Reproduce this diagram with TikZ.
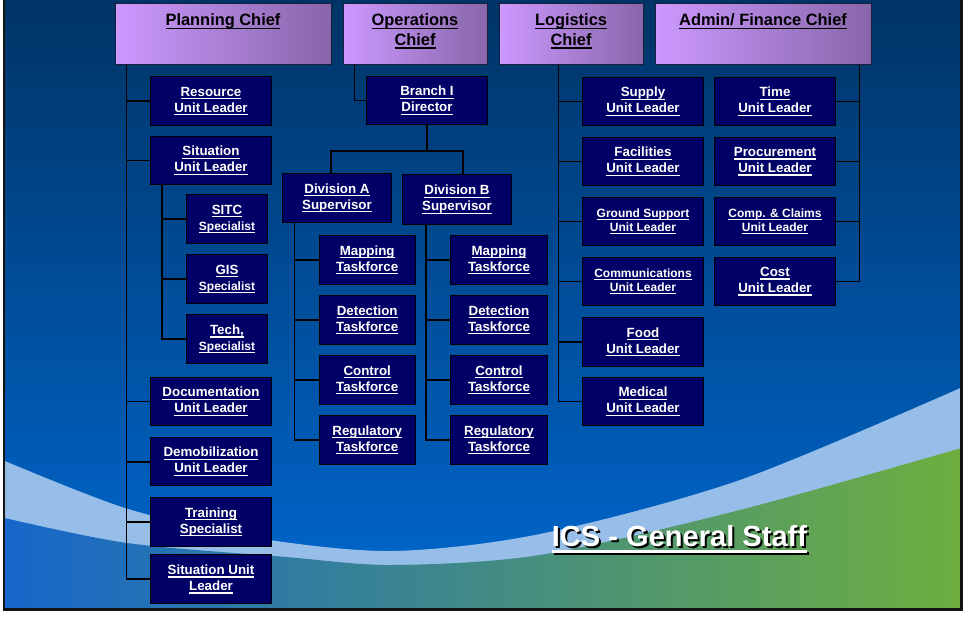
\documentclass[tikz,border=0pt]{standalone}
\usepackage{fontspec}
\setmainfont{Liberation Sans}
\usepackage{tikz}
\usetikzlibrary{positioning}

\definecolor{unitnavy}{RGB}{0,0,102}
\definecolor{chieflight}{RGB}{204,153,255}
\definecolor{chiefdark}{RGB}{136,102,170}
\definecolor{chiefedge}{RGB}{30,30,60}
\definecolor{skytop}{RGB}{0,52,102}
\definecolor{skymid}{RGB}{0,84,168}
\definecolor{skybot}{RGB}{0,104,208}
\definecolor{swoosh}{RGB}{150,190,232}
\definecolor{groundblue}{RGB}{22,102,204}
\definecolor{groundmid}{RGB}{72,136,165}
\definecolor{groundgreen}{RGB}{110,175,62}
\definecolor{framegray}{RGB}{20,20,20}

\newsavebox{\lblbox}
\newcommand{\lbl}[1]{\sbox{\lblbox}{#1}\rlap{\rule[-.23em]{\wd\lblbox}{.1em}}\usebox{\lblbox}}
\newcommand{\smalltxt}{\fontsize{9}{10.5}\selectfont}

\begin{document}
\begin{tikzpicture}[x=0.75pt,y=-0.75pt,
    chief/.style={draw=chiefedge, line width=0.75pt, left color=chieflight, right color=chiefdark, minimum height=45.75pt, inner sep=0pt},
    chieftext/.style={font=\bfseries\fontsize{12.3}{14.9}\selectfont, text=black, align=center, inner sep=0pt},
    unit/.style={draw=black, line width=0.75pt, fill=unitnavy, text=white, font=\bfseries\fontsize{10}{12}\selectfont, align=center, minimum width=90.45pt, minimum height=36.4pt, inner sep=0pt},
    spec/.style={unit, minimum width=60.45pt},
    div/.style={unit, minimum width=81.45pt, minimum height=37pt},
    task/.style={unit, minimum width=72.2pt, minimum height=36.2pt},
    titletext/.style={font=\bfseries\fontsize{21.8}{24}\selectfont, anchor=base, inner sep=0pt},
    link/.style={draw=black, line width=1.4pt}]
    \useasboundingbox (0,0) rectangle (965,617);

    % background
    \fill[white] (0,0) rectangle (965,617);
    \begin{scope}
        \clip (4,0) rectangle (961.5,609.5);
        \shade[top color=skytop, middle color=skymid, bottom color=skybot] (4,0) rectangle (961.5,609.5);
        \fill[swoosh] plot[smooth] coordinates {(0,459) (125,508) (250,537) (390,551) (540,534) (740,480) (965,386)} -- (965,617) -- (0,617) -- cycle;
        \shade[left color=groundblue, middle color=groundmid, right color=groundgreen] plot[smooth] coordinates {(0,517) (127,543) (286,557) (393,565) (540,555) (740,510) (965,447)} -- (965,617) -- (0,617) -- cycle;
    \end{scope}
    \draw[line width=2pt, framegray] (4,-10) rectangle (961.5,609.5);

    % chiefs
    \node[chief, minimum width=162pt] (plan) at (223,34.5) {};
    \node[chief, minimum width=108pt] (ops) at (415,34.5) {};
    \node[chief, minimum width=108pt] (log) at (571,34.5) {};
    \node[chief, minimum width=162pt] (adm) at (763,34.5) {};
    \node[chieftext, below=7.3pt of plan.north] (planlbl) {\lbl{Planning Chief}};
    \node[chieftext, below=7.3pt of ops.north] (opslbl) {\lbl{Operations}\\\lbl{Chief}};
    \node[chieftext, below=7.3pt of log.north] (loglbl) {\lbl{Logistics}\\\lbl{Chief}};
    \node[chieftext, below=7.3pt of adm.north] (admlbl) {\lbl{Admin/ Finance Chief}};

    % planning section
    \node[unit] (res) at (211,101) {\lbl{Resource}\\\lbl{Unit Leader}};
    \node[unit] (sit) at (211,160.5) {\lbl{Situation}\\\lbl{Unit Leader}};
    \node[spec] (sitc) at (227,219) {\lbl{SITC}\\\smalltxt\lbl{Specialist}};
    \node[spec] (gis) at (227,279) {\lbl{GIS}\\\smalltxt\lbl{Specialist}};
    \node[spec] (tech) at (227,339) {\lbl{Tech,}\\\smalltxt\lbl{Specialist}};
    \node[unit] (doc) at (211,401.5) {\lbl{Documentation}\\\lbl{Unit Leader}};
    \node[unit] (demob) at (211,461.7) {\lbl{Demobilization}\\\lbl{Unit Leader}};
    \node[unit] (train) at (211,521.8) {\lbl{Training}\\\lbl{Specialist}};
    \node[unit] (sitl) at (211,579.2) {\lbl{Situation Unit}\\\lbl{Leader}};

    % operations section
    \node[unit] (branch) at (427,100.5) {\lbl{Branch I}\\\lbl{Director}};
    \node[div] (divA) at (337,198) {\lbl{Division A}\\\lbl{Supervisor}};
    \node[div] (divB) at (457,199.6) {\lbl{Division B}\\\lbl{Supervisor}};
    \node[task] (mapA) at (367.2,260) {\lbl{Mapping}\\\lbl{Taskforce}};
    \node[task] (detA) at (367.2,320) {\lbl{Detection}\\\lbl{Taskforce}};
    \node[task] (ctrlA) at (367.2,380) {\lbl{Control}\\\lbl{Taskforce}};
    \node[task] (regA) at (367.2,440) {\lbl{Regulatory}\\\lbl{Taskforce}};
    \node[task] (mapB) at (499,260) {\lbl{Mapping}\\\lbl{Taskforce}};
    \node[task] (detB) at (499,320) {\lbl{Detection}\\\lbl{Taskforce}};
    \node[task] (ctrlB) at (499,380) {\lbl{Control}\\\lbl{Taskforce}};
    \node[task] (regB) at (499,440) {\lbl{Regulatory}\\\lbl{Taskforce}};

    % logistics section
    \node[unit] (supply) at (643,101.5) {\lbl{Supply}\\\lbl{Unit Leader}};
    \node[unit] (fac) at (643,161.5) {\lbl{Facilities}\\\lbl{Unit Leader}};
    \node[unit, font=\bfseries\smalltxt] (ground) at (643,221.5) {\lbl{Ground Support}\\\lbl{Unit Leader}};
    \node[unit, font=\bfseries\smalltxt] (comm) at (643,281.5) {\lbl{Communications}\\\lbl{Unit Leader}};
    \node[unit] (food) at (643,342) {\lbl{Food}\\\lbl{Unit Leader}};
    \node[unit] (med) at (643,401.5) {\lbl{Medical}\\\lbl{Unit Leader}};

    % admin/finance section
    \node[unit] (time) at (775,101.5) {\lbl{Time}\\\lbl{Unit Leader}};
    \node[unit] (proc) at (775,161.5) {\lbl{Procurement}\\\lbl{Unit Leader}};
    \node[unit, font=\bfseries\smalltxt] (comp) at (775,221.5) {\lbl{Comp. \& Claims}\\\lbl{Unit Leader}};
    \node[unit] (cost) at (775,281.5) {\lbl{Cost}\\\lbl{Unit Leader}};

    % connectors
    \coordinate (ptrunk) at ([xshift=9pt]plan.south west);
    \draw[link] (ptrunk) |- (sitl.west);
    \foreach \n in {res,sit,doc,demob,train}
        \draw[link] (\n.west) -- (\n.west -| ptrunk);
    \coordinate (strunk) at ([xshift=9pt]sit.south west);
    \draw[link] (strunk) |- (tech.west);
    \foreach \n in {sitc,gis}
        \draw[link] (\n.west) -- (\n.west -| strunk);

    \draw[link] ([xshift=9pt]ops.south west) |- (branch.west);
    \coordinate (bsplit) at ([yshift=-19pt]branch.south);
    \draw[link] (branch.south) -- (bsplit);
    \draw[link] ([xshift=-4.5pt]divA.north) |- (bsplit) -| ([xshift=4.5pt]divB.north);
    \coordinate (atrunk) at ([xshift=9.2pt]divA.south west);
    \draw[link] (atrunk) |- (regA.west);
    \foreach \n in {mapA,detA,ctrlA}
        \draw[link] (\n.west) -- (\n.west -| atrunk);
    \coordinate (btrunk) at ([xshift=18pt]divB.south west);
    \draw[link] (btrunk) |- (regB.west);
    \foreach \n in {mapB,detB,ctrlB}
        \draw[link] (\n.west) -- (\n.west -| btrunk);

    \coordinate (ltrunk) at ([xshift=45pt]log.south west);
    \draw[link] (ltrunk) |- (med.west);
    \foreach \n in {supply,fac,ground,comm,food}
        \draw[link] (\n.west) -- (\n.west -| ltrunk);
    \coordinate (ftrunk) at ([xshift=-9pt]adm.south east);
    \draw[link] (ftrunk) |- (cost.east);
    \foreach \n in {time,proc,comp}
        \draw[link] (\n.east) -- (\n.east -| ftrunk);

    % title
    \node[titletext, text=black] (titleshadow) at (681.5,548.7) {\lbl{ICS - General Staff}};
    \node[titletext, text=white] (title) at (679.5,546.7) {\lbl{ICS - General Staff}};
\end{tikzpicture}
\end{document}
